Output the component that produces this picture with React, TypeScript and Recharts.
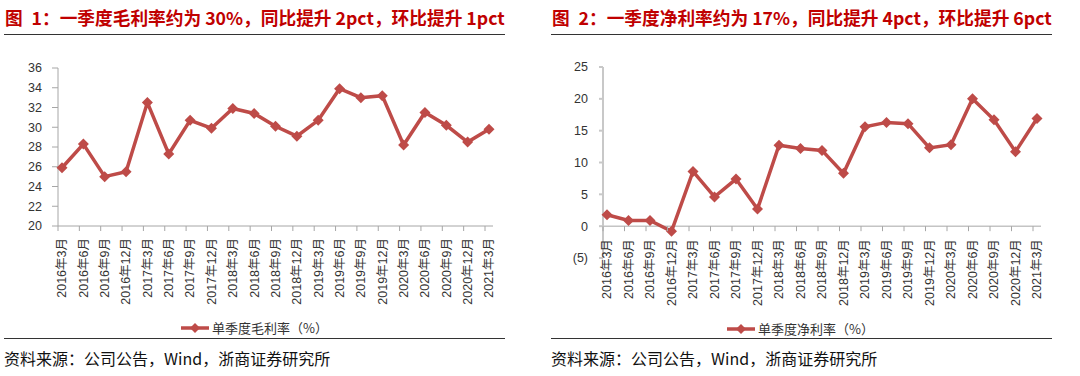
import { LineChart, Line, XAxis, YAxis, Legend, ReferenceLine } from "recharts";

const categories = [
  "2016年3月", "2016年6月", "2016年9月", "2016年12月",
  "2017年3月", "2017年6月", "2017年9月", "2017年12月",
  "2018年3月", "2018年6月", "2018年9月", "2018年12月",
  "2019年3月", "2019年6月", "2019年9月", "2019年12月",
  "2020年3月", "2020年6月", "2020年9月", "2020年12月",
  "2021年3月",
];
const grossMargin = [25.9, 28.3, 25.0, 25.5, 32.5, 27.3, 30.7, 29.9, 31.9, 31.4, 30.1, 29.1, 30.7, 33.9, 33.0, 33.2, 28.2, 31.5, 30.2, 28.5, 29.8];
const netMargin = [1.8, 0.9, 0.9, -0.8, 8.6, 4.6, 7.4, 2.7, 12.7, 12.2, 11.9, 8.3, 15.6, 16.3, 16.1, 12.3, 12.8, 20.0, 16.7, 11.7, 16.9];
const grossTicks = [20, 22, 24, 26, 28, 30, 32, 34, 36];
const netTicks = [-5, 0, 5, 10, 15, 20, 25];

const titles = [
  "图\u20021：一季度毛利率约为 30%，同比提升 2pct，环比提升 1pct",
  "图\u20022：一季度净利率约为 17%，同比提升 4pct，环比提升 6pct",
];
const seriesNames = ["单季度毛利率（%）", "单季度净利率（%）"];
const sourceText = "资料来源：公司公告，Wind，浙商证券研究所";

const RED = "#be4b48";
const LABEL_FONT = "'Liberation Sans', Arial, 'Noto Sans CJK SC', sans-serif";
const CJK_FONT = "'Noto Sans CJK SC', sans-serif";

const grossData = categories.map((c, i) => ({ name: c, value: grossMargin[i] }));
const netData = categories.map((c, i) => ({ name: c, value: netMargin[i] }));

const Diamond = (p: any) => {
  const { cx, cy, index } = p;
  if (cx == null || cy == null) return <g key={index} />;
  const r = 5.5;
  return (
    <path
      key={index}
      d={`M${cx},${cy - r}L${cx + r},${cy}L${cx},${cy + r}L${cx - r},${cy}Z`}
      fill={RED}
    />
  );
};

// x tick drawn where the category axis crosses (shift = distance up from plot bottom)
const makeTick = (shift: number, gap: number) => (props: any) => {
  const { x, y, payload } = props;
  const y0 = y - shift;
  return (
    <g>
      <line x1={x - 4} y1={y0} x2={x - 4} y2={y0 + 5} stroke="#a6a6a6" />
      <text
        x={x}
        y={y0 + gap}
        transform={`rotate(-90, ${x}, ${y0 + gap})`}
        textAnchor="end"
        dy="0.35em"
        fontSize={12.5}
        fontFamily={LABEL_FONT}
        fill="#333"
      >
        {payload.value}
      </text>
    </g>
  );
};

const LegendContent = ({ name }: { name: string }) => (
  <div style={{ display: "flex", alignItems: "center", whiteSpace: "nowrap" }}>
    <svg width={30} height={12}>
      <line x1={0} y1={6} x2={28} y2={6} stroke={RED} strokeWidth={3.5} />
      <path d="M14,1L19,6L14,11L9,6Z" fill={RED} />
    </svg>
    <span style={{ fontFamily: CJK_FONT, fontSize: 13, color: "#333", marginLeft: 1 }}>{name}</span>
  </div>
);

const Panel = ({ left, title }: { left: number; title: string }) => (
  <>
    <div
      style={{
        position: "absolute",
        left: left,
        top: 6,
        fontFamily: CJK_FONT,
        fontWeight: 700,
        fontSize: 17.7,
        color: "#c00000",
        whiteSpace: "pre",
        lineHeight: "22px",
      }}
    >
      {title}
    </div>
    <div style={{ position: "absolute", left: left - 1, top: 34, width: 501, height: 1, background: "#333" }} />
    <div style={{ position: "absolute", left: left - 1, top: 338, width: 501, height: 1, background: "#333" }} />
    <div
      style={{
        position: "absolute",
        left: left - 1,
        top: 347,
        fontFamily: CJK_FONT,
        fontSize: 16,
        color: "#111",
        whiteSpace: "pre",
        lineHeight: "22px",
      }}
    >
      {sourceText}
    </div>
  </>
);

const H = 340;

const App = () => {
  // left chart geometry
  const gTop = 68;
  const gXH = H - 226;
  // right chart geometry
  const nTop = 67;
  const nXH = H - 258;
  const nPlotH = H - nTop - nXH;
  const zeroShift = (nPlotH * (0 - netTicks[0])) / (netTicks[netTicks.length - 1] - netTicks[0]);

  return (
    <div style={{ position: "absolute", left: 0, top: 0, width: 1080, height: 376, background: "#fff" }}>
      <Panel left={5} title={titles[0]} />
      <Panel left={552} title={titles[1]} />

      <div style={{ position: "absolute", left: 0, top: 0 }}>
        <LineChart width={540} height={H} data={grossData} margin={{ top: gTop, right: 47, left: 0, bottom: 0 }}>
          <XAxis
            dataKey="name"
            interval={0}
            height={gXH}
            padding={{ left: 4, right: 4 }}
            stroke="#a6a6a6"
            tickLine={false}
            tickSize={0}
            tickMargin={0}
            tick={makeTick(0, 12)}
          />
          <YAxis
            width={58}
            domain={[20, 36]}
            ticks={grossTicks}
            interval={0}
            stroke="#a6a6a6"
            tickSize={6}
            tickMargin={10}
            tick={{ fontSize: 12.5, fontFamily: LABEL_FONT, fill: "#333" }}
          />
          <Legend
            layout="horizontal"
            verticalAlign="middle"
            align="center"
            wrapperStyle={{ position: "absolute", left: 181, top: 318, width: "auto" }}
            content={() => <LegendContent name={seriesNames[0]} />}
          />
          <Line
            dataKey="value"
            name={seriesNames[0]}
            stroke={RED}
            strokeWidth={3.5}
            dot={Diamond}
            activeDot={false}
            isAnimationActive={false}
          />
        </LineChart>
      </div>

      <div style={{ position: "absolute", left: 540, top: 0 }}>
        <LineChart width={540} height={H} data={netData} margin={{ top: nTop, right: 39, left: 0, bottom: 0 }}>
          <XAxis
            dataKey="name"
            interval={0}
            height={nXH}
            padding={{ left: 4, right: 4 }}
            axisLine={false}
            tickLine={false}
            tickSize={0}
            tickMargin={0}
            tick={makeTick(zeroShift, 13)}
          />
          <YAxis
            width={63}
            domain={[-5, 25]}
            ticks={netTicks}
            interval={0}
            stroke="#c8c8c8"
            strokeWidth={2}
            tickSize={4}
            tickMargin={11}
            tickFormatter={(v: number) => (v < 0 ? `(${-v})` : `${v}`)}
            tick={{ fontSize: 12.5, fontFamily: LABEL_FONT, fill: "#333", stroke: "none" }}
          />
          <ReferenceLine y={0} stroke="#a6a6a6" />
          <Legend
            layout="horizontal"
            verticalAlign="middle"
            align="center"
            wrapperStyle={{ position: "absolute", left: 187, top: 319, width: "auto" }}
            content={() => <LegendContent name={seriesNames[1]} />}
          />
          <Line
            dataKey="value"
            name={seriesNames[1]}
            stroke={RED}
            strokeWidth={3.5}
            dot={Diamond}
            activeDot={false}
            isAnimationActive={false}
          />
        </LineChart>
      </div>
    </div>
  );
};

export default App;
